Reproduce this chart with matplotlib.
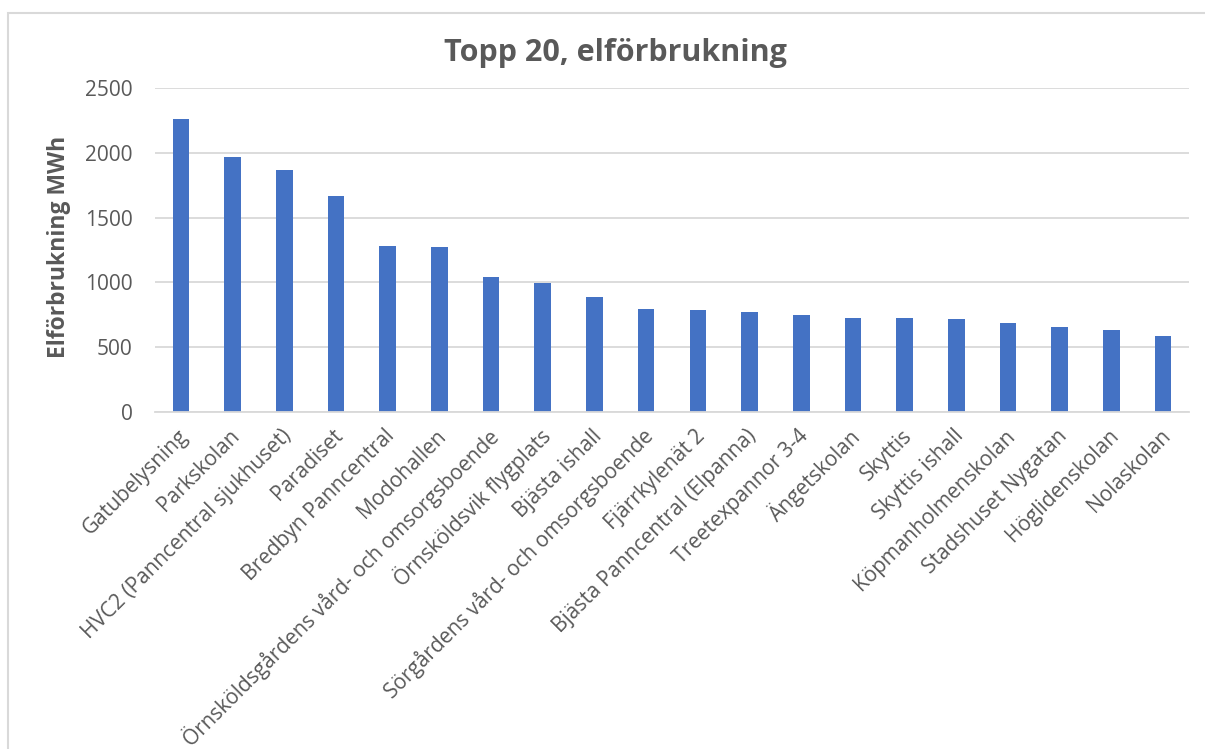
import matplotlib.pyplot as plt
from matplotlib.patches import Rectangle
from matplotlib.transforms import ScaledTranslation

plt.rcParams['font.family'] = ['Open Sans', 'DejaVu Sans']

names = ['Gatubelysning', 'Parkskolan', 'HVC2 (Panncentral sjukhuset)', 'Paradiset',
         'Bredbyn Panncentral', 'Modohallen', 'Örnsköldsgårdens vård- och omsorgsboende',
         'Örnsköldsvik flygplats', 'Bjästa ishall', 'Sörgårdens vård- och omsorgsboende',
         'Fjärrkylenät 2', 'Bjästa Panncentral (Elpanna)', 'Treetexpannor 3-4', 'Ängetskolan',
         'Skyttis', 'Skyttis ishall', 'Köpmanholmenskolan', 'Stadshuset Nygatan',
         'Höglidenskolan', 'Nolaskolan']
mwh = [2262, 1966, 1865, 1668, 1280, 1272, 1045, 995, 890, 795,
       787, 772, 750, 725, 725, 718, 690, 657, 636, 586]
yticks = [0, 500, 1000, 1500, 2000, 2500]

grey = '#595959'
fig = plt.figure(figsize=(12.05, 7.49), dpi=100)
ax = fig.add_axes([155 / 1205, 1 - 412 / 749, 1034 / 1205, 324 / 749])

x = range(len(names))
ax.bar(x, mwh, width=0.32, color='#4472C4', zorder=2)
ax.set_xlim(-0.5, len(names) - 0.5)
ax.set_ylim(0, 2500)
ax.set_yticks(yticks)
ax.yaxis.grid(True, color='#D9D9D9', linewidth=1.3, zorder=0)
for s in ['top', 'right', 'left']:
    ax.spines[s].set_visible(False)
ax.spines['bottom'].set_color('#D9D9D9')
ax.spines['bottom'].set_linewidth(1.3)
ax.tick_params(axis='both', length=0, labelsize=15, labelcolor=grey)
ax.tick_params(axis='y', pad=16)
ax.set_xticks(list(x))
ax.set_xticklabels(names, rotation=45, ha='right', va='center', rotation_mode='anchor')
ax.tick_params(axis='x', pad=15)
shift = ScaledTranslation(4 / 100, 0, fig.dpi_scale_trans)
for lbl in ax.get_xticklabels():
    lbl.set_transform(lbl.get_transform() + shift)

ax.set_ylabel('Elförbrukning MWh', fontsize=16.5, fontweight='bold', color=grey)
ax.yaxis.set_label_coords(-84 / 1034, 0.51)
fig.text(615 / 1205, 1 - 53 / 749, 'Topp 20, elförbrukning', ha='center', va='center',
         fontsize=22, fontweight='bold', color=grey)

fig.patches.append(Rectangle((8 / 1205, -0.1), 1.2, 1 - 13 / 749 + 0.1,
                             transform=fig.transFigure, fill=False,
                             edgecolor='#D9D9D9', linewidth=1.5))

fig.savefig('out.png', dpi=100, facecolor='white')
